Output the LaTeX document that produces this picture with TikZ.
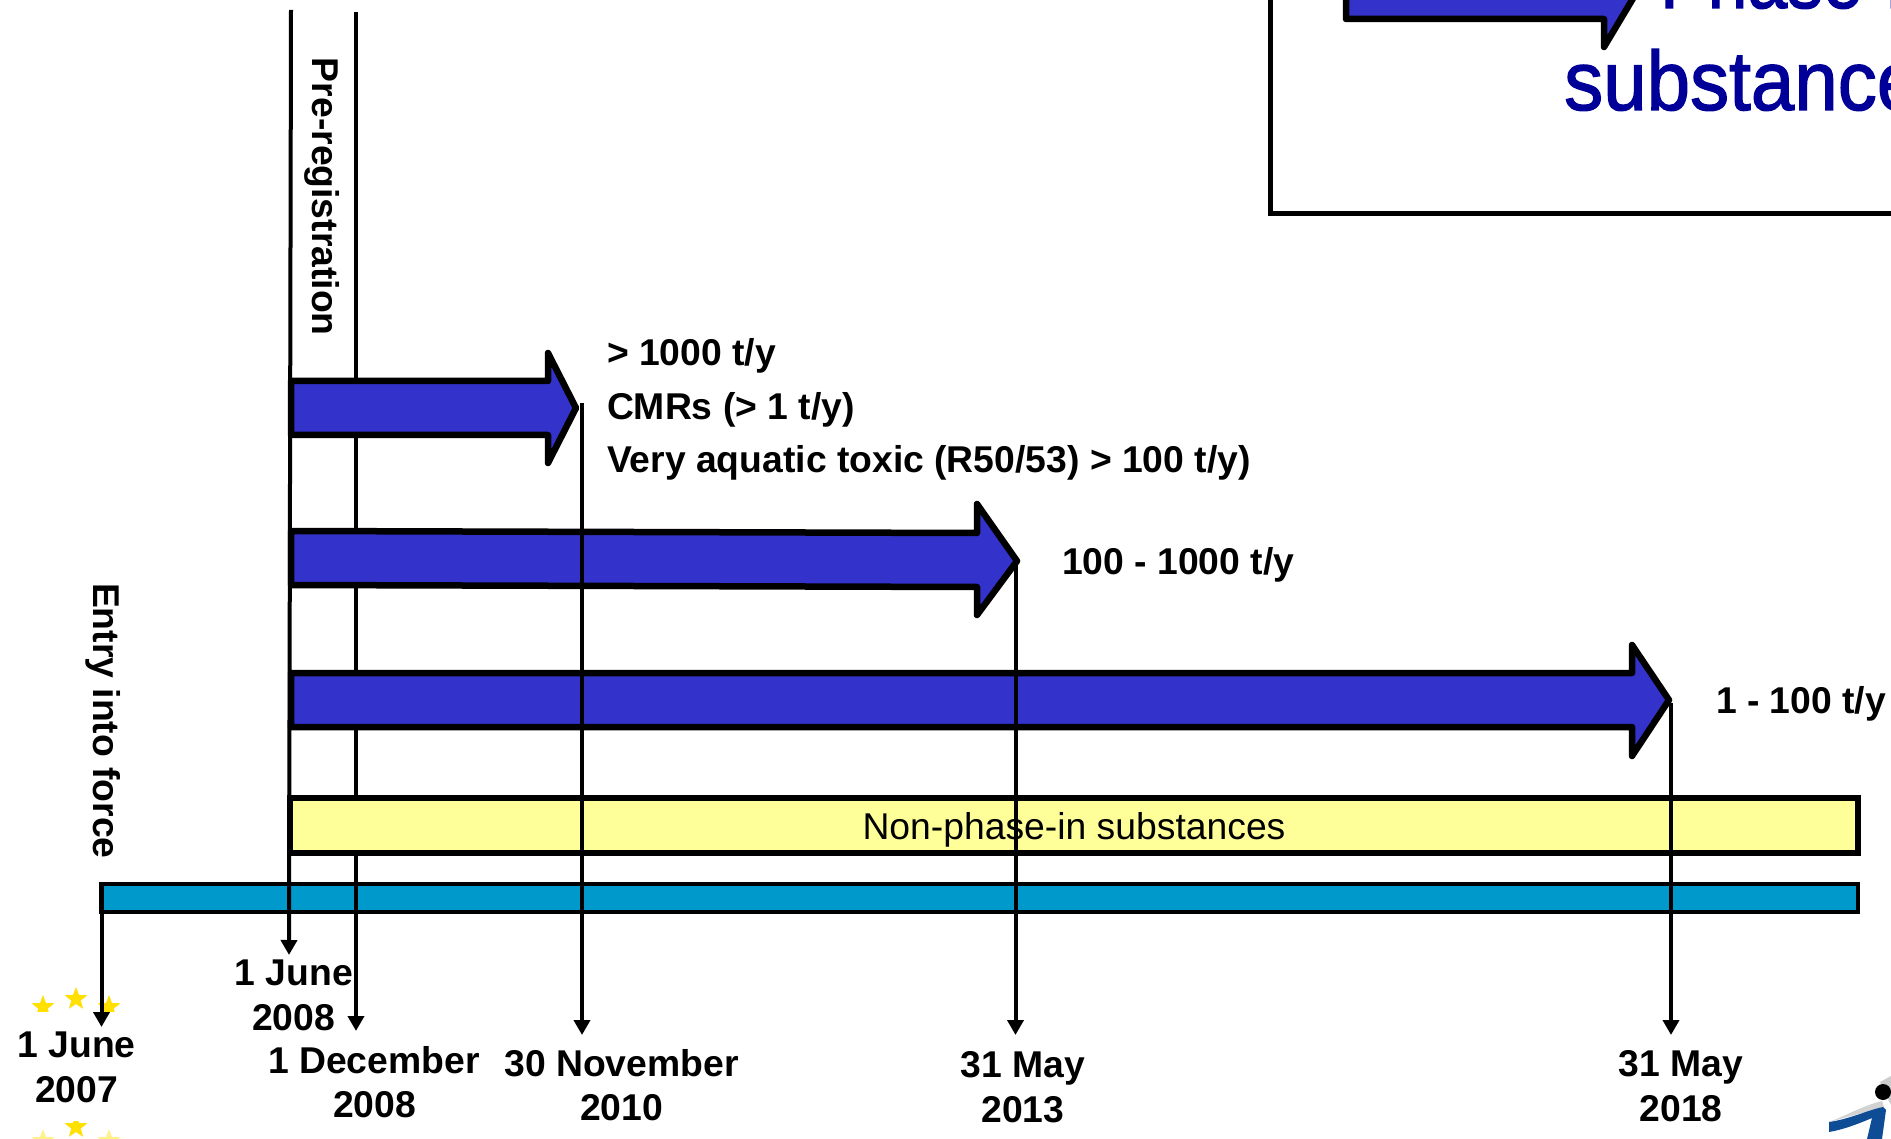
\documentclass[tikz,border=0pt]{standalone}
\usepackage{fontspec}
\setmainfont{Liberation Sans}
\newfontfamily\titlefont[FakeBold=1.6]{Liberation Sans}
\usetikzlibrary{arrows.meta,shapes.geometric}
\definecolor{arrowblue}{HTML}{3333CC}
\definecolor{barblue}{HTML}{0099CC}
\definecolor{paleyellow}{HTML}{FFFF99}
\definecolor{titleblue}{HTML}{000099}
\definecolor{eustar}{HTML}{FFE000}
\definecolor{logoblue}{HTML}{0F4C96}
\tikzset{
  x=1pt,y=-1pt,
  lbl/.style={font=\fontsize{37.3}{45}\selectfont\bfseries,inner sep=0pt,outer sep=0pt},
  lblb/.style={lbl,anchor=base west},
  datebox/.style={lbl,anchor=base,align=center},
  rotlbl/.style={lbl,anchor=base west,rotate=-90},
  tick/.style={line width=4pt,-{Triangle[length=15pt,width=16pt]}},
  bigarrow/.style={line width=6.5pt,draw=black,fill=arrowblue,line join=round},
  eustarsty/.style={star,star points=5,star point ratio=2.4,fill=eustar,inner sep=0pt,minimum size=24pt},
  titletext/.style={font=\fontsize{84}{100}\selectfont\titlefont,text=titleblue,anchor=base west,inner sep=0pt,transform shape},
}
\begin{document}
\begin{tikzpicture}
\useasboundingbox (0,0) rectangle (1891,1139);
\begin{scope}
\clip (0,0) rectangle (1891,1139);
\fill[white] (0,0) rectangle (1891,1139);

% EU stars behind the white date label
\node[eustarsty] (s1) at (43,1007) {};
\node[eustarsty] (s2) at (76,999) {};
\node[eustarsty] (s3) at (109,1007) {};
\node[eustarsty,fill=eustar!45] (s4) at (43,1141) {};
\node[eustarsty] (s5) at (76,1127) {};
\node[eustarsty,fill=eustar!45] (s6) at (109,1141) {};
\fill[white] (0,1012) rectangle (180,1121);

% Legend box
\draw[line width=5pt] (1900,214) -- (1270,214) -- (1270,-10);
\draw[bigarrow] (1346,-30) -- (1346,19) -- (1604,19) -- (1604,47) -- (1650,-30);
\node[titletext,xscale=.85] (t1) at (1660,8) {Phase-in};
\node[titletext,xscale=.93] (t2) at (1564,110) {substance};

% Time bar
\node[draw=black,line width=4pt,fill=barblue,inner sep=0pt,outer sep=0pt,minimum width=1757pt,minimum height=28pt,anchor=north west] (bar) at (101,884) {};

% Named ends
\coordinate (p1top) at (291,10);
\coordinate (p2top) at (356,12);
\coordinate (p1end) at (289,955);
\coordinate (p2end) at (356,1031);
\coordinate (e0top) at (101.5,884);
\coordinate (e0end) at (101.5,1027);
\coordinate (a1tip) at (576,408);
\coordinate (a2tip) at (1017,561);
\coordinate (a3tip) at (1669,700);
\coordinate (l1top) at (582,403);
\coordinate (l2top) at (1015.5,560);
\coordinate (l3top) at (1671,703);
\coordinate (l1end) at (582,1035);
\coordinate (l2end) at (1015.5,1035);
\coordinate (l3end) at (1671,1035);

\draw[tick] (e0top) -- (e0end);
\draw[tick] (p1top) -- (p1end);
\draw[tick] (p2top) -- (p2end);

% Phase-in arrows
\draw[bigarrow] (291,381) -- (548,381) -- (548,353) -- (a1tip) -- (548,463) -- (548,435) -- (291,435) -- cycle;
\draw[bigarrow] (291,531) -- (977,533) -- (977,504) -- (a2tip) -- (977,615) -- (977,587) -- (291,585) -- cycle;
\draw[bigarrow] (291,673) -- (1632,673) -- (1632,645) -- (a3tip) -- (1632,756) -- (1632,727) -- (291,727) -- cycle;

% Non-phase-in bar
\node[draw=black,line width=6pt,fill=paleyellow,inner sep=0pt,outer sep=0pt,minimum width=1568pt,minimum height=55pt,anchor=north west] (np) at (290,798) {};

\draw[tick] (l1top) -- (l1end);
\draw[tick] (l2top) -- (l2end);
\draw[tick] (l3top) -- (l3end);

\node[font=\fontsize{37.3}{45}\selectfont,anchor=base,inner sep=0pt] (nptext) at (1074,839) {Non-phase-in substances};

% Band labels
\node[lblb] (b1) at (607,366) {> 1000 t/y};
\node[lblb] (b2) at (607,420) {CMRs (> 1 t/y)};
\node[lblb] (b3) at (607,472) {Very aquatic toxic (R50/53) > 100 t/y)};
\node[lblb] (b4) at (1062,574) {100 - 1000 t/y};
\node[lblb] (b5) at (1716,713) {1 - 100 t/y};

% Rotated labels
\node[rotlbl] (pre) at (312,58) {Pre-registration};
\node[rotlbl] (ent) at (93,583) {Entry into force};

% Dates
\node[datebox] (d1a) at (76.5,1057) {1 June};
\node[datebox] (d1b) at (76.5,1102) {2007};
\node[datebox] (d2a) at (294,985) {1 June};
\node[datebox] (d2b) at (293.5,1030) {2008};
\node[datebox] (d3a) at (374,1073) {1 December};
\node[datebox] (d3b) at (374.5,1117) {2008};
\node[datebox] (d4a) at (621.5,1076) {30 November};
\node[datebox] (d4b) at (621.5,1120) {2010};
\node[datebox] (d5a) at (1023,1077) {31 May};
\node[datebox] (d5b) at (1023,1122) {2013};
\node[datebox] (d6a) at (1681,1076) {31 May};
\node[datebox] (d6b) at (1681,1121) {2018};

% Logo fragment
\fill[gray!40] (1891,1076) -- (1880,1082) -- (1891,1105) -- cycle;
\fill[gray!35] (1829,1122) .. controls (1845,1116) and (1862,1106) .. (1882,1101) -- (1884,1107) -- cycle;
\fill[black] (1883,1092) circle (8);
\fill[logoblue] (1829,1122) .. controls (1850,1119) and (1868,1110) .. (1883,1107) -- (1886,1110) -- (1882,1139) -- (1867,1139) -- (1872,1118) .. controls (1858,1124) and (1842,1130) .. (1829,1132) -- cycle;
\end{scope}
\end{tikzpicture}
\end{document}
